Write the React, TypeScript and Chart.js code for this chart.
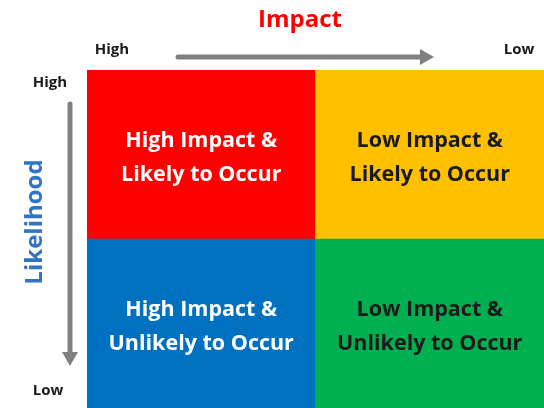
import React, { useEffect, useRef } from "react";
import { Chart, registerables } from "chart.js";

Chart.register(...registerables);

const impactLevels = ["High", "Low"];
const likelihoodLevels = ["Unlikely", "Likely"];
const unlikelyValues = [1, 1];
const likelyValues = [1, 1];
const unlikelyColors = ["#0070C0", "#00B050"];
const likelyColors = ["#FF0000", "#FFC000"];
const likelyLabels = [
  ["High Impact &", "Likely to Occur"],
  ["Low Impact &", "Likely to Occur"],
];
const unlikelyLabels = [
  ["High Impact &", "Unlikely to Occur"],
  ["Low Impact &", "Unlikely to Occur"],
];
const likelyTextColors = ["#FFFFFF", "#1A1A1A"];
const unlikelyTextColors = ["#FFFFFF", "#1A1A1A"];
const xAxisTitle = "Impact";
const yAxisTitle = "Likelihood";
const axisEnds = ["High", "Low"];

const FONT = "'Open Sans', Lato, sans-serif";

function arrow(ctx: CanvasRenderingContext2D, x1: number, y1: number, x2: number, y2: number) {
  const ang = Math.atan2(y2 - y1, x2 - x1);
  const head = 14;
  const hw = 8;
  const bx = x2 - Math.cos(ang) * head;
  const by = y2 - Math.sin(ang) * head;
  ctx.save();
  ctx.strokeStyle = "#808080";
  ctx.fillStyle = "#808080";
  ctx.lineWidth = 5;
  ctx.lineCap = "round";
  ctx.beginPath();
  ctx.moveTo(x1, y1);
  ctx.lineTo(bx, by);
  ctx.stroke();
  ctx.beginPath();
  ctx.moveTo(x2, y2);
  ctx.lineTo(bx - Math.sin(ang) * hw, by + Math.cos(ang) * hw);
  ctx.lineTo(bx + Math.sin(ang) * hw, by - Math.cos(ang) * hw);
  ctx.closePath();
  ctx.fill();
  ctx.restore();
}

const matrixPlugin = {
  id: "matrixText",
  afterDatasetsDraw(chart: any) {
    const ctx: CanvasRenderingContext2D = chart.ctx;
    ctx.save();
    ctx.textAlign = "center";
    ctx.textBaseline = "middle";
    const sets = [
      { idx: 0, labels: unlikelyLabels, colors: unlikelyTextColors },
      { idx: 1, labels: likelyLabels, colors: likelyTextColors },
    ];
    ctx.font = `bold 21.5px ${FONT}`;
    sets.forEach((s) => {
      const meta = chart.getDatasetMeta(s.idx);
      meta.data.forEach((bar: any, i: number) => {
        const cx = bar.x;
        const cy = (bar.y + bar.base) / 2 + 3.5;
        ctx.fillStyle = s.colors[i];
        const lines = s.labels[i];
        lines.forEach((t: string, k: number) => {
          ctx.fillText(t, cx, cy + (k - (lines.length - 1) / 2) * 34);
        });
      });
    });
    ctx.fillStyle = "#FF0000";
    ctx.font = `bold 24px ${FONT}`;
    ctx.fillText(xAxisTitle, 300, 20);
    ctx.save();
    ctx.translate(35, 222);
    ctx.rotate(-Math.PI / 2);
    ctx.fillStyle = "#2E75C6";
    ctx.fillText(yAxisTitle, 0, 0);
    ctx.restore();
    ctx.fillStyle = "#1A1A1A";
    ctx.font = `bold 15px ${FONT}`;
    ctx.fillText(axisEnds[0], 112, 50);
    ctx.fillText(axisEnds[1], 519, 50);
    ctx.fillText(axisEnds[0], 50, 83);
    ctx.fillText(axisEnds[1], 48, 391);
    ctx.restore();
    arrow(ctx, 178, 57, 434, 57);
    arrow(ctx, 70, 104, 70, 366);
  },
};

export default function App() {
  const ref = useRef<HTMLCanvasElement>(null);
  useEffect(() => {
    if (!ref.current) return;
    const chart = new Chart(ref.current, {
      type: "bar",
      data: {
        labels: impactLevels,
        datasets: [
          {
            label: likelihoodLevels[0],
            data: unlikelyValues,
            backgroundColor: unlikelyColors,
            borderWidth: 0,
            categoryPercentage: 1,
            barPercentage: 1,
          },
          {
            label: likelihoodLevels[1],
            data: likelyValues,
            backgroundColor: likelyColors,
            borderWidth: 0,
            categoryPercentage: 1,
            barPercentage: 1,
          },
        ],
      },
      options: {
        responsive: false,
        animation: false,
        layout: { padding: { left: 87, top: 70, right: 0, bottom: 0 } },
        plugins: { legend: { display: false }, tooltip: { enabled: false } },
        scales: {
          x: { display: false, stacked: true },
          y: { display: false, stacked: true, min: 0, max: 2 },
        },
      },
      plugins: [matrixPlugin],
    });
    return () => chart.destroy();
  }, []);
  return (
    <div style={{ position: "fixed", left: 0, top: 0, width: 544, height: 408, background: "#fff" }}>
      <canvas ref={ref} width={544} height={408} style={{ display: "block" }} />
    </div>
  );
}
